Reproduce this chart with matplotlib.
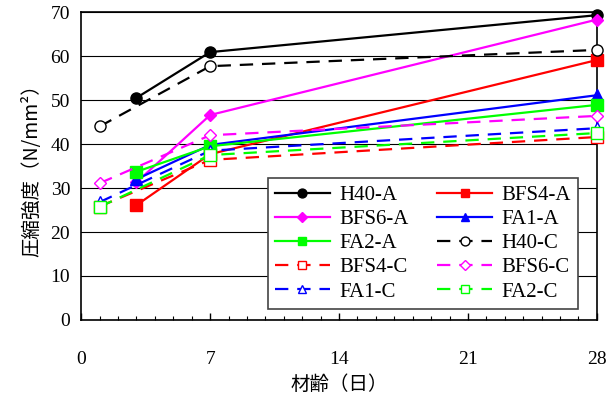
import matplotlib.pyplot as plt
from matplotlib.ticker import MultipleLocator

# --- Data -----------------------------------------------------------------

DAYS_A = [3, 7, 28]
DAYS_C = [1, 7, 28]

H40_A = [50.5, 60.9, 69.3]
BFS4_A = [26.1, 37.7, 59.1]
BFS6_A = [31.3, 46.6, 68.3]
FA1_A = [32.0, 39.8, 51.1]
FA2_A = [33.7, 39.5, 48.9]

H40_C = [44.0, 57.7, 61.4]
BFS4_C = [25.8, 36.4, 41.6]
BFS6_C = [31.1, 42.0, 46.4]
FA1_C = [26.8, 38.5, 43.6]
FA2_C = [25.7, 37.5, 42.5]

X_TICKS = [0, 7, 14, 21, 28]
Y_TICKS = [0, 10, 20, 30, 40, 50, 60, 70]

SERIF = "Liberation Serif"
JP = ["Noto Sans CJK JP", "DejaVu Sans"]

plt.rcParams["font.family"] = SERIF

fig = plt.figure(figsize=(6.06, 4.03), dpi=100)
ax = fig.add_axes([0.134, 0.206, 0.851, 0.764])

dash = (0, (6, 4))
series = [
    ("H40-A", DAYS_A, H40_A, "black", "-", "o", True),
    ("BFS4-A", DAYS_A, BFS4_A, "red", "-", "s", True),
    ("BFS6-A", DAYS_A, BFS6_A, "magenta", "-", "D", True),
    ("FA1-A", DAYS_A, FA1_A, "blue", "-", "^", True),
    ("FA2-A", DAYS_A, FA2_A, "lime", "-", "s", True),
    ("H40-C", DAYS_C, H40_C, "black", dash, "o", False),
    ("BFS4-C", DAYS_C, BFS4_C, "red", dash, "s", False),
    ("BFS6-C", DAYS_C, BFS6_C, "magenta", dash, "D", False),
    ("FA1-C", DAYS_C, FA1_C, "blue", dash, "^", False),
    ("FA2-C", DAYS_C, FA2_C, "lime", dash, "s", False),
]

handles = []
for label, x, y, color, ls, marker, filled in series:
    ms = 6 if marker == "D" else 8
    h, = ax.plot(x, y, color=color, linestyle=ls, linewidth=1.6,
                 marker=marker, markersize=ms,
                 markerfacecolor=color if filled else "white",
                 markeredgecolor=color, markeredgewidth=1.0,
                 label=label, clip_on=False, zorder=3)
    handles.append(h)

ax.set_xlim(0, 28)
ax.set_ylim(0, 70)
ax.set_xticks(X_TICKS)
ax.set_yticks(Y_TICKS)
ax.xaxis.set_minor_locator(MultipleLocator(1))
ax.tick_params(axis="x", which="major", direction="in", length=5,
               width=1, pad=22, labelsize=14)
ax.tick_params(axis="x", which="minor", direction="in", length=3, width=0.8)
ax.tick_params(axis="y", which="major", length=0, pad=8, labelsize=14)
ax.grid(axis="y", color="black", linewidth=0.8)
ax.set_axisbelow(True)
for sp in ax.spines.values():
    sp.set_linewidth(1.2)

ax.set_xlabel("材齢（日）", family=JP, fontsize=14, labelpad=5)
ax.set_ylabel("圧縮強度（N/mm²）", family=JP, fontsize=14, labelpad=6)

# legend reads row by row, two columns
order = handles[0::2] + handles[1::2]
leg = ax.legend(handles=order, ncol=2, loc="lower right",
                bbox_to_anchor=(0.963, 0.036), borderaxespad=0,
                fontsize=15, frameon=True, fancybox=False, shadow=False,
                edgecolor="#444444", framealpha=1, handlelength=2.6,
                handletextpad=0.45, columnspacing=1.4, labelspacing=0.22,
                borderpad=0.35, markerscale=0.8)
leg.get_frame().set_linewidth(1.2)

fig.savefig("out.png", dpi=100)
